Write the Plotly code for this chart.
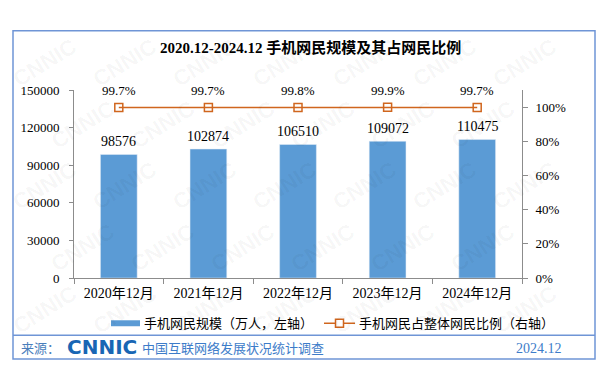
import plotly.graph_objects as go

categories = ["2020年12月", "2021年12月", "2022年12月", "2023年12月", "2024年12月"]
users = [98576, 102874, 106510, 109072, 110475]
share = [99.7, 99.7, 99.8, 99.9, 99.7]
left_ticks = [0, 30000, 60000, 90000, 120000, 150000]
right_ticks = [0, 20, 40, 60, 80, 100]

title_text = "2020.12-2024.12 手机网民规模及其占网民比例"
legend_bar = "手机网民规模（万人，左轴）"
legend_line = "手机网民占整体网民比例（右轴）"
source_label = "来源："
source_text = "中国互联网络发展状况统计调查"
date_text = "2024.12"

# page has an 8px body margin; all targets below are page pixel coordinates
OFF = 8
W, H = 605 - 2 * OFF, 390 - 2 * OFF
PL, PR, PT, PB = 74, 522, 89.5, 278.5

def xp(px):
    return (px - PL) / (PR - PL)

def yp(py):
    return (PB - py) / (PB - PT)

SERIF = "Liberation Serif, Noto Sans CJK SC, serif"
BAR_C = "#5B9BD5"
LINE_C = "#D0661E"
AX_C = "#8C8C8C"
BLUE_T = "#3D7CC9"

fig = go.Figure()
fig.add_trace(go.Bar(
    x=categories, y=users, marker_color=BAR_C, width=0.41,
    cliponaxis=False, showlegend=False, yaxis="y"))
fig.add_trace(go.Scatter(
    x=categories, y=share, mode="lines+markers", yaxis="y2",
    line=dict(color=LINE_C, width=1.5),
    marker=dict(symbol="square-open", size=8, color=LINE_C, line=dict(width=1.5)),
    showlegend=False, cliponaxis=False))

annotations = []
for c, v in zip(categories, users):
    annotations.append(dict(x=c, y=v, xref="x", yref="y", text=str(v),
                            showarrow=False, yshift=13, yanchor="middle",
                            font=dict(family=SERIF, size=14, color="#000")))
for c, s in zip(categories, share):
    annotations.append(dict(x=c, y=s, xref="x", yref="y2", text=f"{s:.1f}%",
                            showarrow=False, yshift=17, yanchor="middle",
                            font=dict(family=SERIF, size=13, color="#000")))

# faint watermarks
for row in range(5):
    for col in range(7):
        px = 45 + col * 80 + (row % 2) * 38
        py = 62 + row * 62
        if px > 560:
            continue
        annotations.append(dict(x=xp(px), y=yp(py), xref="paper", yref="paper",
                                text="<b>CNNIC</b>", showarrow=False, textangle=-32,
                                xanchor="center", yanchor="middle",
                                font=dict(family="Liberation Sans, sans-serif", size=22,
                                          color="rgba(0,0,0,0.045)")))

def label(px, py, text, size=13, color="#000", xanchor="left", family=SERIF):
    return dict(x=xp(px), y=yp(py), xref="paper", yref="paper", text=text,
                showarrow=False, xanchor=xanchor, yanchor="middle",
                font=dict(family=family, size=size, color=color))

annotations += [
    label(310, 47, f"<b>{title_text}</b>", size=15, xanchor="center"),
    label(142, 324, legend_bar),
    label(357, 324, legend_line),
    label(19, 349, source_label, color="#4A7EBB"),
    label(65, 347.5, "<b>CNNIC</b>", size=20, color="#1866B4",
          family="DejaVu Sans, sans-serif"),
    label(140, 349, source_text, color=BLUE_T),
    label(564, 349, date_text, size=14, color=BLUE_T, xanchor="right"),
]

shapes = [
    dict(type="rect", xref="paper", yref="paper", x0=xp(13), x1=xp(595), y0=yp(360), y1=yp(30),
         line=dict(color="#6F95D6", width=1.5), fillcolor="rgba(0,0,0,0)"),
    dict(type="line", xref="paper", yref="paper", x0=xp(13), x1=xp(595), y0=yp(336), y1=yp(336),
         line=dict(color="#6F95D6", width=1.5)),
    dict(type="rect", xref="paper", yref="paper", x0=xp(111), x1=xp(140), y0=yp(327), y1=yp(321),
         line=dict(width=0), fillcolor=BAR_C),
    dict(type="line", xref="paper", yref="paper", x0=xp(324), x1=xp(355), y0=yp(324), y1=yp(324),
         line=dict(color=LINE_C, width=1.5)),
    dict(type="rect", xref="paper", yref="paper", x0=xp(335.5), x1=xp(343.5), y0=yp(328), y1=yp(320),
         line=dict(color=LINE_C, width=1.5), fillcolor="white"),
]

fig.update_layout(
    width=W, height=H,
    margin=dict(l=PL - OFF, r=W - (PR - OFF), t=PT - OFF, b=H - (PB - OFF), pad=0),
    paper_bgcolor="white", plot_bgcolor="white",
    font=dict(family=SERIF, size=13, color="#000"),
    xaxis=dict(showline=True, linecolor=AX_C, linewidth=1, ticks="outside",
               tickson="boundaries", ticklen=5, tickcolor=AX_C, ticklabelstandoff=2,
               tickfont=dict(family=SERIF, size=14, color="#000"), showgrid=False),
    yaxis=dict(range=[0, 150000], tickvals=left_ticks, tickformat="d", showline=True,
               linecolor=AX_C, ticks="outside", ticklen=4, tickcolor=AX_C, showgrid=False,
               zeroline=False, tickfont=dict(family=SERIF, size=13, color="#000"),
               ticklabelstandoff=7),
    yaxis2=dict(range=[0, 110], tickvals=right_ticks, ticktext=[f"{t}%" for t in right_ticks],
                overlaying="y", side="right", showline=True, linecolor=AX_C,
                ticks="outside", ticklen=5, tickcolor=AX_C, showgrid=False, zeroline=False,
                tickfont=dict(family=SERIF, size=13, color="#000"), ticklabelstandoff=5),
    annotations=annotations, shapes=shapes,
)

fig.write_html("out.html")
